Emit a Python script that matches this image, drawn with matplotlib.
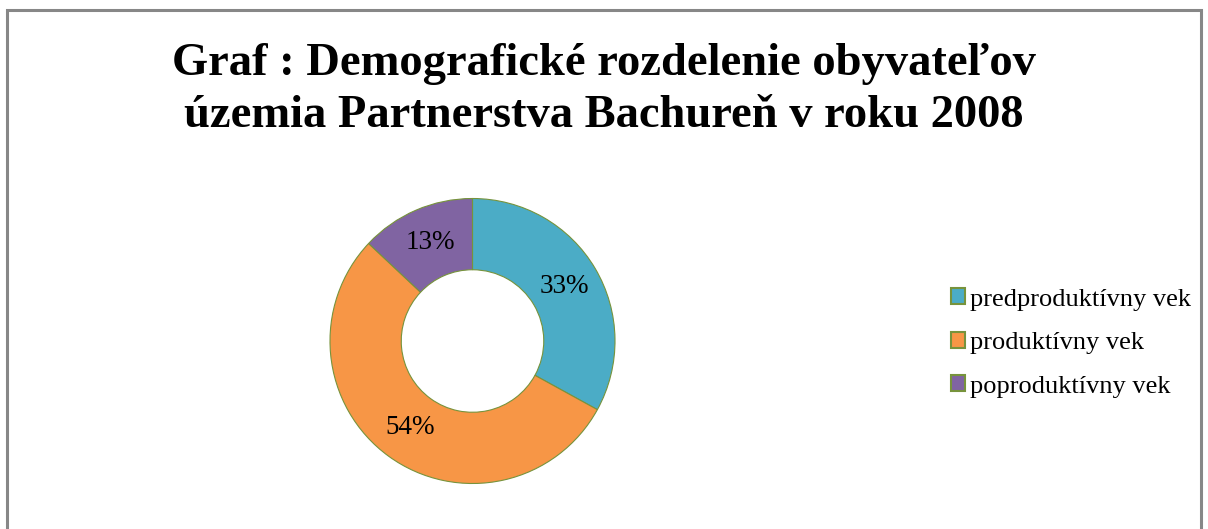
import matplotlib.pyplot as plt
from matplotlib.patches import Rectangle, Patch

# data
labels = ["predproduktívny vek", "produktívny vek", "poproduktívny vek"]
shares = [33, 54, 13]
colors = ["#4BACC6", "#F79646", "#8064A2"]
edge_color = "#77933C"
title = "Graf : Demografické rozdelenie obyvateľov\núzemia Partnerstva Bachureň v roku 2008"

plt.rcParams["font.family"] = ["Liberation Serif", "DejaVu Serif"]

W, H = 1208, 529
fig = plt.figure(figsize=(W / 100, H / 100), dpi=100)
fig.patch.set_facecolor("white")

# outer chart frame (bottom edge is cut off in the reference)
fig.patches.append(Rectangle((7 / W, -0.1), (1201 - 7) / W, 1.1 - 10 / H,
                             transform=fig.transFigure, fill=False,
                             edgecolor="#878787", linewidth=2.2))

fig.text(604 / W, 1 - 90 / H, title, ha="center", va="center",
         fontsize=33.5, fontweight="bold", linespacing=1.3)

# donut: centre (472, 341) px, outer radius 142 px
cx, cy, r = 472.5, 341, 142.5
ax = fig.add_axes([(cx - r) / W, (H - cy - r) / H, 2 * r / W, 2 * r / H])
wedges, texts, autotexts = ax.pie(
    shares, colors=colors, startangle=90, counterclock=False,
    autopct=lambda p: f"{p:.0f}%", pctdistance=0.75, radius=1,
    wedgeprops=dict(width=0.5, edgecolor=edge_color, linewidth=0.8),
    textprops=dict(fontsize=19.5, color="black"))
ax.set_xlim(-1, 1)
ax.set_ylim(-1, 1)
ax.set_aspect("equal")
ax.axis("off")

handles = [Patch(facecolor=c, edgecolor=edge_color, linewidth=1.5) for c in colors]
fig.legend(handles, labels, loc="center left",
           bbox_to_anchor=(940 / W, 1 - 343 / H), frameon=False,
           fontsize=19, handlelength=0.55, handleheight=0.55,
           handletextpad=0.18, labelspacing=0.8, borderaxespad=0)

fig.savefig("out.png", dpi=100)
